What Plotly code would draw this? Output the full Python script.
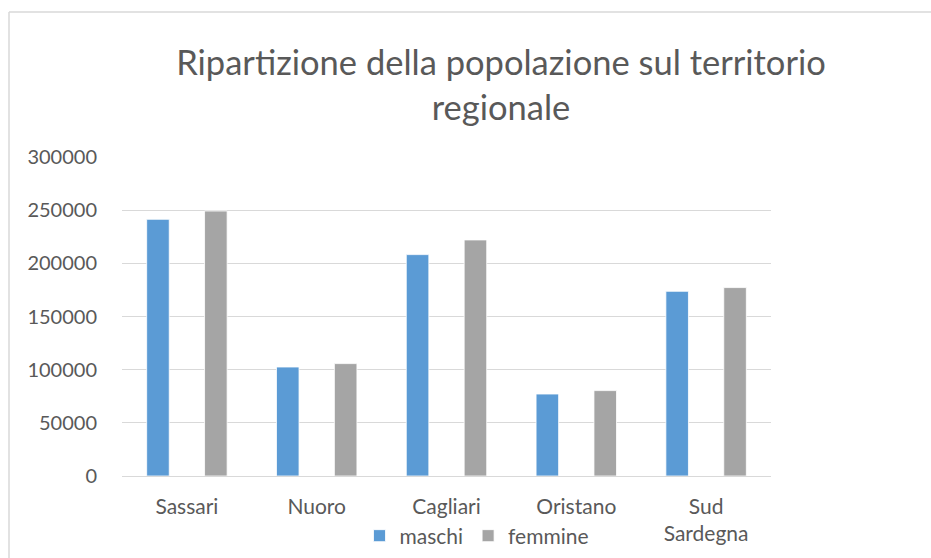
import plotly.graph_objects as go

categories = ["Sassari", "Nuoro", "Cagliari", "Oristano", "Sud<br>Sardegna"]
maschi = [241400, 102500, 208200, 77100, 173700]
femmine = [249200, 105700, 222000, 80300, 177200]
y_ticks = [0, 50000, 100000, 150000, 200000, 250000, 300000]

FONT = "Lato, 'Open Sans', sans-serif"
TXT = "#595959"

W, H = 931, 558
L, R, T, B = 122, 160, 157, 82
PW, PH = W - L - R, H - T - B

fig = go.Figure()
fig.add_trace(go.Bar(name="maschi", x=categories, y=maschi,
                     marker=dict(color="#5B9BD5", line=dict(color="white", width=0.8))))
fig.add_trace(go.Bar(name="femmine", x=categories, y=femmine,
                     marker=dict(color="#A5A5A5", line=dict(color="white", width=0.8))))

fig.update_layout(
    width=W, height=H,
    margin=dict(l=L, r=R, t=T, b=B, autoexpand=False),
    paper_bgcolor="white", plot_bgcolor="white",
    barmode="group", bargap=0.108, bargroupgap=0.61,
    font=dict(family=FONT, color=TXT, size=21),
    title=dict(text="Ripartizione della popolazione sul territorio<br>regionale",
               x=501/W, xanchor="center", xref="container",
               y=1 - 75/H, yanchor="middle", yref="container",
               font=dict(family=FONT, size=34.5, color=TXT)),
    legend=dict(orientation="h", x=(477-L)/PW, xanchor="center",
                y=(H - B - 536)/PH, yanchor="middle", font=dict(size=21, color=TXT),
                bgcolor="rgba(0,0,0,0)", itemwidth=30),
    showlegend=True,
)
fig.update_xaxes(showgrid=False, showline=False, zeroline=False, ticks="",
                 ticklabelstandoff=16, tickfont=dict(size=21, color=TXT))
fig.update_yaxes(range=[0, 300000], tickvals=y_ticks, ticktext=[str(v) for v in y_ticks],
                 showgrid=True, gridcolor="#D9D9D9", gridwidth=1.3,
                 zeroline=True, zerolinecolor="#D9D9D9", zerolinewidth=1.3,
                 showline=False, ticks="", ticklabelstandoff=24,
                 tickfont=dict(size=20, color=TXT))

# chart frame: only the top and left edges are visible
frame = dict(color="#D9D9D9", width=1.5)
x_left, x_right = (9 - L) / PW, (W + 20 - L) / PW
y_top, y_bottom = (H - B - 12) / PH, (H - B - (H + 20)) / PH
fig.add_shape(type="line", xref="paper", yref="paper", x0=x_left, x1=x_right,
              y0=y_top, y1=y_top, line=frame, layer="below")
fig.add_shape(type="line", xref="paper", yref="paper", x0=x_left, x1=x_left,
              y0=y_bottom, y1=y_top, line=frame, layer="below")

fig.write_html("out.html", config={"displayModeBar": False},
               post_script="document.body.style.margin='0';document.body.style.overflow='hidden';")
